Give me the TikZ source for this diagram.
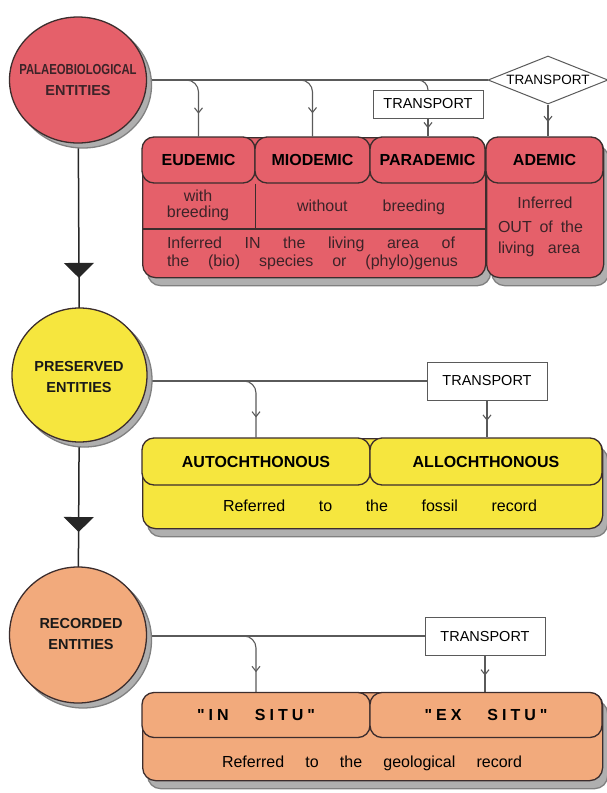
\documentclass[tikz,border=0pt]{standalone}
\usepackage{fontspec}
\setmainfont{Liberation Sans}
\newfontfamily\qfont{Liberation Sans}[LetterSpace=25]
\usetikzlibrary{arrows.meta,shapes.geometric,decorations.markings,shadows}
\definecolor{redf}{RGB}{229,96,106}
\definecolor{yelf}{RGB}{246,230,62}
\definecolor{orf}{RGB}{242,170,124}
\definecolor{edgec}{RGB}{60,45,45}
\definecolor{conncol}{RGB}{90,90,90}
\definecolor{shad}{RGB}{175,175,175}
\definecolor{redtext}{RGB}{60,35,40}
\pgfdeclarelayer{bg}
\pgfsetlayers{bg,main}
\tikzset{
  ent/.style={ellipse, draw=edgec, line width=1.3pt, inner sep=0pt,
    drop shadow={shadow xshift=5pt, shadow yshift=-5pt, fill=shad, draw=gray, opacity=1}},
  entlabel/.style={inner sep=0pt, align=center, font=\fontsize{14.5}{21}\selectfont\bfseries, text=black!90},
  bodybox/.style={draw=edgec, line width=1.3pt, rounded corners=13pt, inner sep=0pt, anchor=north west,
    drop shadow={shadow xshift=5pt, shadow yshift=-8pt, fill=shad, draw=gray, opacity=1}},
  tab/.style={draw=edgec, line width=1.3pt, rounded corners=12pt, inner sep=0pt,
    font=\fontsize{16}{19}\selectfont\bfseries},
  btext/.style={inner sep=0pt, font=\fontsize{16}{19}\selectfont},
  tbox/.style={draw=conncol, line width=1pt, fill=white, inner sep=0pt, font=\fontsize{14.5}{17}\selectfont},
  conn/.style={draw=conncol, line width=1.1pt},
  trunk/.style={draw=black!85, line width=1.5pt},
  midarrow/.style={postaction={decorate}, decoration={markings,
    mark=at position #1 with {\arrow{Straight Barb[length=5pt,width=8pt]}}}},
  tri/.style={postaction={decorate}, decoration={markings,
    mark=at position #1 with {\arrow{Triangle[width=30pt,length=15pt]}}}}
}
\begin{document}
\begin{tikzpicture}[x=1pt,y=-1pt]
\useasboundingbox (0,0) rectangle (607,793);
% ---------- circles
\node[ent, fill=redf, minimum width=137pt, minimum height=126pt] (pal) at (78,80) {};
\node[entlabel, text=redtext] (palt) at (pal.center) {\scalebox{0.78}[1]{PALAEOBIOLOGICAL}\\ENTITIES};
\node[ent, fill=yelf, minimum width=135pt, minimum height=134pt] (pres) at (79.5,375) {};
\node[entlabel] (prest) at (79,377) {PRESERVED\\ENTITIES};
\node[ent, fill=orf, minimum width=137pt, minimum height=136pt] (rec) at (78,635) {};
\node[entlabel] (rect) at (81,634) {RECORDED\\ENTITIES};
% ---------- red block
\node[bodybox, fill=redf, minimum width=343pt, minimum height=140pt] (redL) at (142,137) {};
\node[bodybox, fill=redf, minimum width=117pt, minimum height=140pt] (redR) at (486,137) {};
\node[tab, fill=redf, minimum width=113pt, minimum height=46pt] (eud) at (198.5,160) {EUDEMIC};
\node[tab, fill=redf, minimum width=115pt, minimum height=46pt] (mio) at (312.5,160) {MIODEMIC};
\node[tab, fill=redf, minimum width=115pt, minimum height=46pt] (para) at (427.5,160) {PARADEMIC};
\node[tab, fill=redf, minimum width=117pt, minimum height=46pt] (ade) at (544.5,160) {ADEMIC};
\draw[edgec, line width=1.3pt] (142,229) -- (485,229);
\draw[edgec, line width=1.3pt] (eud.south east) -- (eud.south east |- 0,229);
\begin{scope}[every node/.style={btext, text=redtext}]
\node[align=center, font=\fontsize{16}{16}\selectfont] (wb) at (198,205) {with\\breeding};
\node (wo) at (371,207) {\makebox[148pt][s]{without breeding}};
\node (in1) at (311,244) {\makebox[288pt][s]{Inferred IN the living area of}};
\node (in2) at (312.5,262) {\makebox[291pt][s]{the (bio) species or (phylo)genus}};
\node (out1) at (545,203) {Inferred};
\node (out2) at (540.5,227) {\makebox[85pt][s]{OUT of the}};
\node (out3) at (539,249) {\makebox[82pt][s]{living area}};
\end{scope}
% transport nodes top
\node[tbox, minimum width=110pt, minimum height=28pt] (t1) at (428,104) {TRANSPORT};
\node[diamond, draw=conncol, line width=1pt, fill=white, inner sep=0pt, aspect=2.5,
  minimum width=120pt, minimum height=48pt, font=\fontsize{13.5}{16}\selectfont] (dia) at (548,80) {TRANSPORT};
% ---------- yellow block
\node[bodybox, fill=yelf, minimum width=460pt, minimum height=90pt] (yb) at (142,438) {};
\node[tab, fill=yelf, minimum width=228pt, minimum height=47pt] (auto) at (256,461.5) {AUTOCHTHONOUS};
\node[tab, fill=yelf, minimum width=232pt, minimum height=47pt] (allo) at (486,461.5) {ALLOCHTHONOUS};
\node[btext] (fos) at (380,506) {\makebox[314pt][s]{Referred to the fossil record}};
\node[tbox, minimum width=120pt, minimum height=38pt] (t2) at (487,381) {TRANSPORT};
% ---------- orange block
\node[bodybox, fill=orf, minimum width=460pt, minimum height=88pt] (ob) at (142,692) {};
\node[tab, fill=orf, minimum width=228pt, minimum height=45pt] (insitu) at (256,715)
  {\qfont\bfseries\makebox[118pt][s]{"IN SITU"}};
\node[tab, fill=orf, minimum width=232pt, minimum height=45pt] (exsitu) at (486,715)
  {\qfont\bfseries\makebox[123pt][s]{"EX SITU"}};
\node[btext] (geo) at (372,763) {\makebox[300pt][s]{Referred to the geological record}};
\node[tbox, minimum width=120pt, minimum height=38pt] (t3) at (485,636) {TRANSPORT};
% ---------- connectors (behind)
\coordinate (b1) at (185,80);
\coordinate (b2) at (298,80);
\coordinate (b3) at (413,80);
\coordinate (b4) at (241,381);
\coordinate (b5) at (241,636);
\begin{pgfonlayer}{bg}
\fill[white] (0,0) rectangle (607,793);
\draw[trunk, tri=0.671] (pal.center) -- (pres.center);
\draw[trunk, tri=0.604] (pres.center) -- (rec.center);
\draw[conn] (pal.center) -- (dia.west);
\draw[conn, rounded corners=12pt, midarrow=0.65] (b1) -| (eud.north);
\draw[conn, rounded corners=12pt, midarrow=0.65] (b2) -| (mio.north);
\draw[conn, rounded corners=10pt] (b3) -| (t1.north);
\draw[conn, midarrow=0.55] (t1.south) -- (para.north -| t1.south);
\draw[conn, midarrow=0.55] (dia.south) -- (dia.south |- ade.north);
\draw[conn] (pres.center |- t2.west) -- (t2.west);
\draw[conn, rounded corners=12pt, midarrow=0.7] (b4) -| (auto.north);
\draw[conn, midarrow=0.55] (t2.south) -- (t2.south |- allo.north);
\draw[conn] (rec.center |- t3.west) -- (t3.west);
\draw[conn, rounded corners=12pt, midarrow=0.7] (b5) -| (insitu.north);
\draw[conn, midarrow=0.55] (t3.south) -- (t3.south |- exsitu.north);
\end{pgfonlayer}
\end{tikzpicture}
\end{document}
